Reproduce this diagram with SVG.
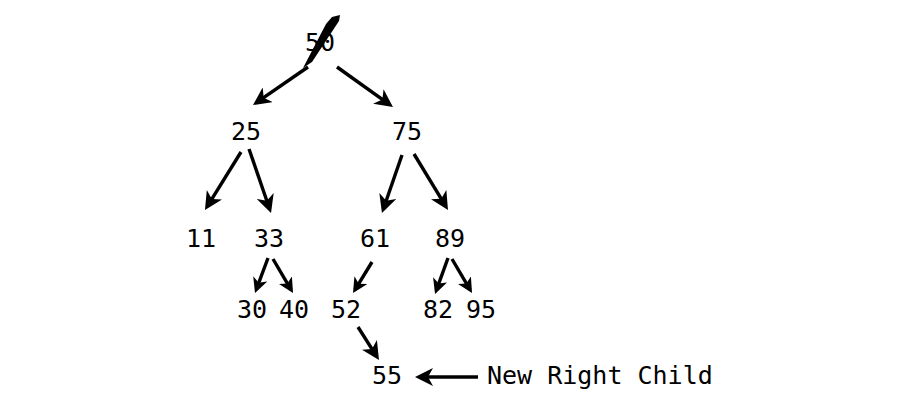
<svg xmlns="http://www.w3.org/2000/svg" width="900" height="407" viewBox="0 0 900 407">
<style>
.t{font-family:"DejaVu Sans Mono","Liberation Mono",monospace;font-size:25px;fill:#000;text-anchor:middle}
.l{text-anchor:start}
.e{stroke:#000;stroke-width:3.4;fill:none}
.big{marker-end:url(#ah)}
.sm{marker-end:url(#as)}
</style>
<defs>
<marker id="ah" markerUnits="userSpaceOnUse" markerWidth="18" markerHeight="18" viewBox="0 0 18 18" refX="13" refY="9" orient="auto">
<path d="M0,0 L18,9 L0,18 L5,9 z" fill="#000"/>
</marker>
<marker id="as" markerUnits="userSpaceOnUse" markerWidth="15" markerHeight="15" viewBox="0 0 15 15" refX="11" refY="7.5" orient="auto">
<path d="M0,0 L15,7.5 L0,15 L4,7.5 z" fill="#000"/>
</marker>
</defs>
<g id="connectors">
<line class="e big" x1="308" y1="67" x2="257.1" y2="102.2"/>
<line class="e big" x1="337" y1="67" x2="388.9" y2="104.1"/>
<line class="e big" x1="241" y1="152" x2="207.6" y2="205.8"/>
<line class="e big" x1="249" y1="149" x2="269.4" y2="208.3"/>
<line class="e big" x1="402" y1="155" x2="383.6" y2="208.3"/>
<line class="e big" x1="414" y1="154" x2="445.4" y2="205.7"/>
<line class="e sm" x1="268" y1="258" x2="256.4" y2="289.2"/>
<line class="e sm" x1="273" y1="259" x2="291" y2="289.6"/>
<line class="e sm" x1="372" y1="262" x2="355.1" y2="289.6"/>
<line class="e sm" x1="448" y1="258" x2="436.4" y2="290.2"/>
<line class="e sm" x1="452" y1="259" x2="470" y2="289.6"/>
<line class="e big" x1="358" y1="327" x2="376.3" y2="355.8"/>
<line class="e big" x1="478" y1="377" x2="420" y2="377"/>
</g>
<g id="n50"><text class="t" x="320" y="51">50</text>
<path d="M303,68 L326,24 L332,17 L340,15 L339,21 L312,62 z" fill="#000"/></g>
<g id="n25"><text class="t" x="246" y="140">25</text></g>
<g id="n75"><text class="t" x="407" y="140">75</text></g>
<g id="n11"><text class="t" x="201" y="247">11</text></g>
<g id="n33"><text class="t" x="269" y="247">33</text></g>
<g id="n61"><text class="t" x="375" y="247">61</text></g>
<g id="n89"><text class="t" x="450" y="247">89</text></g>
<g id="n30"><text class="t" x="252" y="318">30</text></g>
<g id="n40"><text class="t" x="294" y="318">40</text></g>
<g id="n52"><text class="t" x="346" y="318">52</text></g>
<g id="n82"><text class="t" x="438" y="318">82</text></g>
<g id="n95"><text class="t" x="481" y="318">95</text></g>
<g id="n55"><text class="t" x="387" y="384">55</text></g>
<g id="label"><text class="t l" x="487" y="384">New Right Child</text></g>
</svg>
